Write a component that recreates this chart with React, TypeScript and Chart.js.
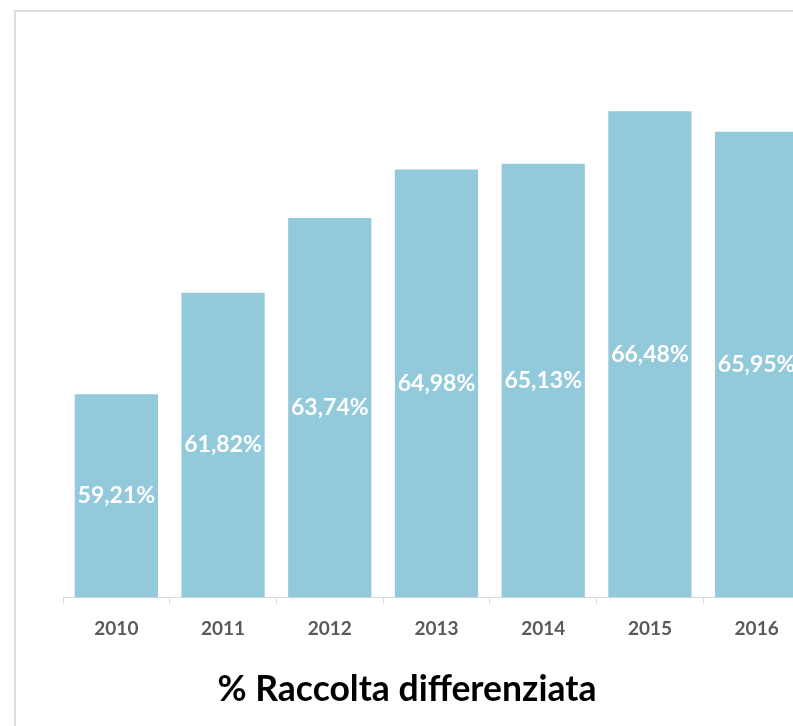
import React, { useEffect, useRef } from "react";
import { Chart, registerables } from "chart.js";

Chart.register(...registerables);

const categories = ["2010", "2011", "2012", "2013", "2014", "2015", "2016"];
const values = [59.21, 61.82, 63.74, 64.98, 65.13, 66.48, 65.95];
const title = "% Raccolta differenziata";

const barColor = "#92c9db";
const axisColor = "#d9d9d9";

const formatValue = (v: number) => v.toFixed(2).replace(".", ",") + "%";

const centerLabels = {
  id: "centerLabels",
  afterDraw(chart: any) {
    const ctx = chart.ctx;
    const meta = chart.getDatasetMeta(0);
    const yScale = chart.scales.y;
    ctx.save();
    ctx.fillStyle = "#ffffff";
    ctx.font = "bold 23px Lato, 'Open Sans', sans-serif";
    ctx.textAlign = "center";
    ctx.textBaseline = "middle";
    meta.data.forEach((el: any, i: number) => {
      const top = yScale.getPixelForValue(values[i]);
      const base = yScale.bottom;
      const y = (top + base) / 2;
      ctx.fillText(formatValue(values[i]), el.x, y);
    });
    ctx.restore();
  },
};

export default function App() {
  const ref = useRef<HTMLCanvasElement>(null);

  useEffect(() => {
    if (!ref.current) return;
    const chart = new Chart(ref.current, {
      type: "bar",
      data: {
        labels: categories,
        datasets: [
          {
            data: values,
            backgroundColor: barColor,
            borderWidth: 0,
            barPercentage: 0.78,
            categoryPercentage: 1,
          },
        ],
      },
      options: {
        animation: false,
        responsive: false,
        devicePixelRatio: 1,
        layout: { padding: { left: 63, right: 2, top: 52, bottom: 73 } },
        plugins: {
          legend: { display: false },
          tooltip: { enabled: false },
          title: { display: false },
        },
        scales: {
          x: {
            grid: {
              display: true,
              drawOnChartArea: false,
              drawTicks: true,
              tickLength: 7,
              color: axisColor,
              offset: true,
            },
            border: { display: true, color: axisColor, width: 1 },
            ticks: {
              color: "#595959",
              font: { family: "Lato", size: 19, weight: "bold" },
              padding: 13,
            },
          },
          y: {
            display: false,
            min: 54,
            max: 68,
          },
        },
      },
      plugins: [centerLabels],
    });
    let cancelled = false;
    if ((document as any).fonts && (document as any).fonts.load) {
      (document as any).fonts.load("bold 23px Lato").then(() => {
        if (!cancelled) chart.update();
      });
    }
    return () => {
      cancelled = true;
      chart.destroy();
    };
  }, []);

  return (
    <div
      style={{
        position: "fixed",
        left: 0,
        top: 0,
        width: 793,
        height: 726,
        overflow: "hidden",
        background: "#ffffff",
      }}
    >
      <div
        style={{
          position: "absolute",
          left: 14,
          top: 10,
          width: 900,
          height: 900,
          border: "2px solid #dcdcdc",
          boxSizing: "border-box",
        }}
      />
      <canvas
        ref={ref}
        width={812}
        height={726}
        style={{ position: "absolute", left: 0, top: 0, width: 812, height: 726 }}
      />
      <div
        style={{
          position: "absolute",
          left: 16,
          top: 662,
          width: 782,
          textAlign: "center",
          fontFamily: "Lato",
          fontWeight: "bold",
          fontSize: 35.5,
          lineHeight: "52px",
          color: "#000000",
        }}
      >
        {title}
      </div>
    </div>
  );
}
